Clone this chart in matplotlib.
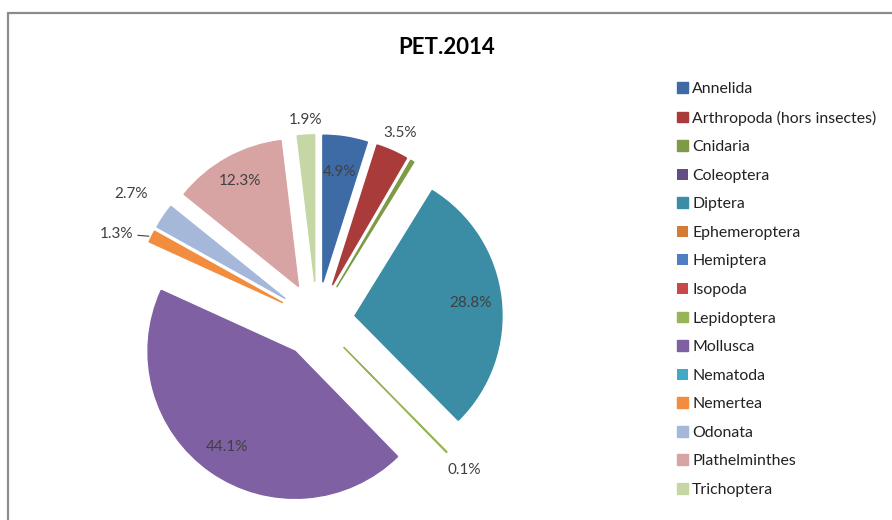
import numpy as np
import matplotlib
matplotlib.use("Agg")
import matplotlib.pyplot as plt
from matplotlib.patches import Rectangle

plt.rcParams["font.family"] = ["Lato", "DejaVu Sans"]

title = "PET.2014"
taxa = ["Annelida", "Arthropoda (hors insectes)", "Cnidaria", "Coleoptera",
        "Diptera", "Ephemeroptera", "Hemiptera", "Isopoda", "Lepidoptera",
        "Mollusca", "Nematoda", "Nemertea", "Odonata", "Plathelminthes",
        "Trichoptera"]
shares = [4.9, 3.5, 0.4, 0.0, 28.8, 0.0, 0.0, 0.0, 0.1, 44.1, 0.0, 1.3,
          2.7, 12.3, 1.9]
colors = ["#3E6BA6", "#A93B3B", "#7D9A44", "#644C86", "#3A8DA4", "#D57C34",
          "#4F7FC0", "#C9494A", "#97B556", "#7F60A3", "#41A8C8", "#F28C3E",
          "#A5B8DA", "#D8A3A3", "#C4D7A5"]

# label distance from each wedge's apex (in radii); missing = no label
label_dist = {"Annelida": 0.76, "Arthropoda (hors insectes)": 1.13,
              "Diptera": 0.79, "Lepidoptera": 1.17, "Mollusca": 0.8,
              "Odonata": 1.27, "Plathelminthes": 0.82, "Trichoptera": 1.1}

W, H, DPI = 892, 520, 100
fig = plt.figure(figsize=(W / DPI, H / DPI), dpi=DPI)
ax = fig.add_axes([0, 0, 1, 1])

R_PX = 147.0
cx, cy = 317.0, 320.0
explode_frac = 0.26

wedges, _ = ax.pie(shares, colors=colors, startangle=90, counterclock=False,
                   explode=[explode_frac] * len(shares), radius=1.0)

for w, c, v in zip(wedges, colors, shares):
    if v > 0:
        w.set_edgecolor(c)
        w.set_linewidth(1.0)
    else:
        w.set_linewidth(0)

ax.set_xlim(-cx / R_PX, (W - cx) / R_PX)
ax.set_ylim(-(H - cy) / R_PX, cy / R_PX)
ax.set_axis_off()

lbl_kw = dict(fontsize=11, color="#404040")
for w, name, v in zip(wedges, taxa, shares):
    if v <= 0:
        continue
    mid = np.deg2rad(0.5 * (w.theta1 + w.theta2))
    d = np.array([np.cos(mid), np.sin(mid)])
    if name == "Nemertea":
        outer = d * (explode_frac + 1.0)
        ax.annotate(f"{v:.1f}%", xy=outer, xytext=(-13, 2),
                    textcoords="offset points", ha="right", va="center",
                    arrowprops=dict(arrowstyle="-", color="#404040",
                                    lw=0.8, shrinkA=1, shrinkB=2),
                    **lbl_kw)
        continue
    f = label_dist.get(name)
    if f is None:
        continue
    pos = d * (explode_frac + f)
    ax.text(pos[0], pos[1], f"{v:.1f}%", ha="center", va="center", **lbl_kw)

fig.text(447 / W, 1 - 47 / H, title, ha="center", va="center",
         fontsize=16, fontweight="bold", color="black")

leg = fig.legend(wedges, taxa, loc="upper left",
                 bbox_to_anchor=(669 / W, 1 - 74 / H), frameon=False,
                 fontsize=11.4, handlelength=0.68, handleheight=0.68,
                 handletextpad=0.28, labelspacing=0.92, borderpad=0,
                 labelcolor="#222222")

fig.add_artist(Rectangle((8 / W, -0.1), 1.2, 1.1 - 13 / H,
                         transform=fig.transFigure, fill=False,
                         edgecolor="#8C8C8C", linewidth=1.6))

fig.savefig("out.png", dpi=DPI)
